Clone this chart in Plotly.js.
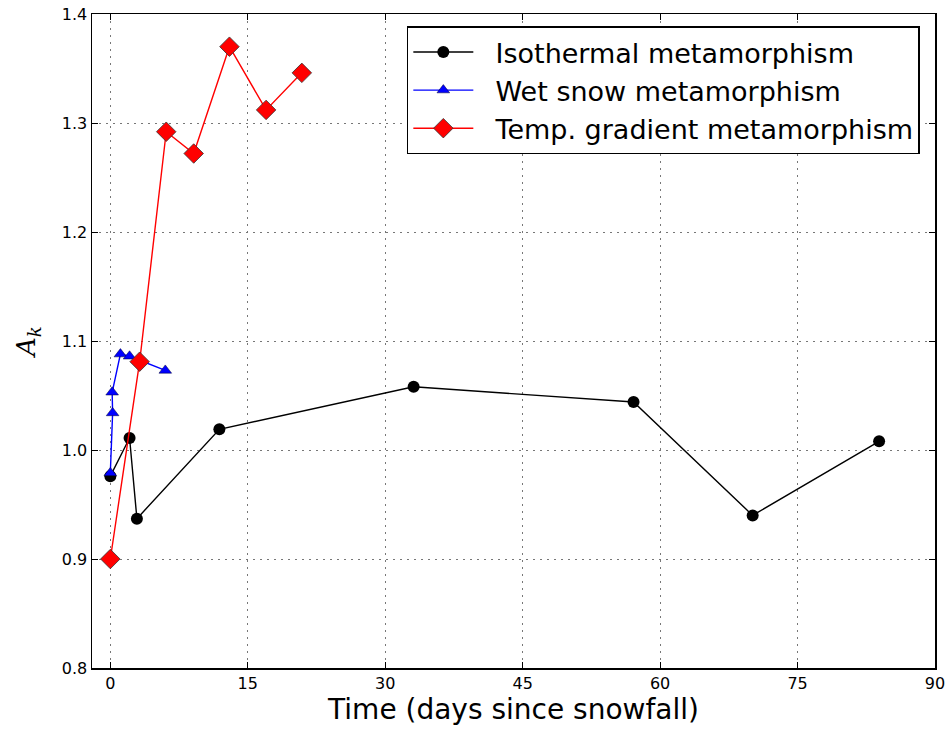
<!DOCTYPE html>
<html>
<head>
<meta charset="utf-8">
<script src="https://cdn.plot.ly/plotly-3.0.1.min.js"></script>
<style>html,body{margin:0;padding:0;background:#fff;}#chart{width:952px;height:729px;}</style>
</head>
<body>
<div id="chart"></div>
<script>
// Isothermal metamorphism
const isoDays = [0, 2.1, 2.9, 11.9, 33.1, 57.1, 70.1, 83.9];
const isoAk   = [0.976, 1.011, 0.937, 1.019, 1.058, 1.044, 0.940, 1.008];
// Wet snow metamorphism
const wetDays = [0, 0.25, 0.2, 1.1, 2.1, 6.0];
const wetAk   = [0.979, 1.034, 1.053, 1.088, 1.086, 1.073];
// Temp. gradient metamorphism
const tgDays = [0, 3.2, 6.1, 9.1, 13.0, 17.0, 20.9];
const tgAk   = [0.900, 1.081, 1.292, 1.272, 1.370, 1.312, 1.346];

const seriesNames = ['Isothermal metamorphism', 'Wet snow metamorphism', 'Temp. gradient metamorphism'];
const xTicks = [0, 15, 30, 45, 60, 75, 90];
const yTicks = [0.8, 0.9, 1.0, 1.1, 1.2, 1.3, 1.4];

const pad = '\u00a0\u00a0';
const traces = [
  {x: isoDays, y: isoAk, name: pad + seriesNames[0], mode: 'lines+markers',
   line: {color: '#000', width: 1.4}, marker: {symbol: 'circle', size: 12, color: '#000'}},
  {x: wetDays, y: wetAk, name: pad + seriesNames[1], mode: 'lines+markers',
   line: {color: '#0000ff', width: 1.4}, marker: {symbol: 'triangle-up', size: 11, color: '#0000ff', line: {color: '#000033', width: 0.5}}},
  {x: tgDays, y: tgAk, name: pad + seriesNames[2], mode: 'lines+markers',
   line: {color: '#ff0000', width: 1.4}, marker: {symbol: 'diamond', size: 15, color: '#ff0000', line: {color: '#333', width: 0.8}}}
];

const axBase = {
  showline: true, linecolor: '#000', linewidth: 1.5, mirror: 'ticks',
  ticks: 'inside', ticklen: 6, tickcolor: '#000', tickwidth: 1,
  showgrid: true, gridcolor: '#777', griddash: '2px,5px', gridwidth: 1,
  zeroline: false
};

const layout = {
  width: 952, height: 729,
  margin: {l: 92, r: 17, t: 14, b: 61},
  paper_bgcolor: '#fff', plot_bgcolor: '#fff',
  font: {family: 'DejaVu Sans', color: '#000'},
  showlegend: true,
  legend: {x: 0.982, y: 0.981, xanchor: 'right', yanchor: 'top',
    bordercolor: '#000', borderwidth: 1.5, bgcolor: '#fff',
    font: {size: 27, family: 'DejaVu Sans'}, tracegroupgap: 0, itemwidth: 60},
  xaxis: Object.assign({}, axBase, {
    range: [-2, 90], tickvals: xTicks, ticktext: xTicks.map(String),
    tickfont: {size: 16, family: 'DejaVu Sans'},
    title: {text: 'Time (days since snowfall)', font: {size: 28, family: 'DejaVu Sans'}, standoff: 4}
  }),
  yaxis: Object.assign({}, axBase, {
    range: [0.8, 1.4], tickvals: yTicks, ticktext: yTicks.map(v => v.toFixed(1)),
    tickfont: {size: 16, family: 'DejaVu Sans'},
    title: {text: '<i>A</i><sub><i>k</i></sub>', font: {size: 26, family: 'DejaVu Serif'}, standoff: 18}
  })
};

Plotly.newPlot('chart', traces, layout, {displayModeBar: false, staticPlot: true});
</script>
</body>
</html>
